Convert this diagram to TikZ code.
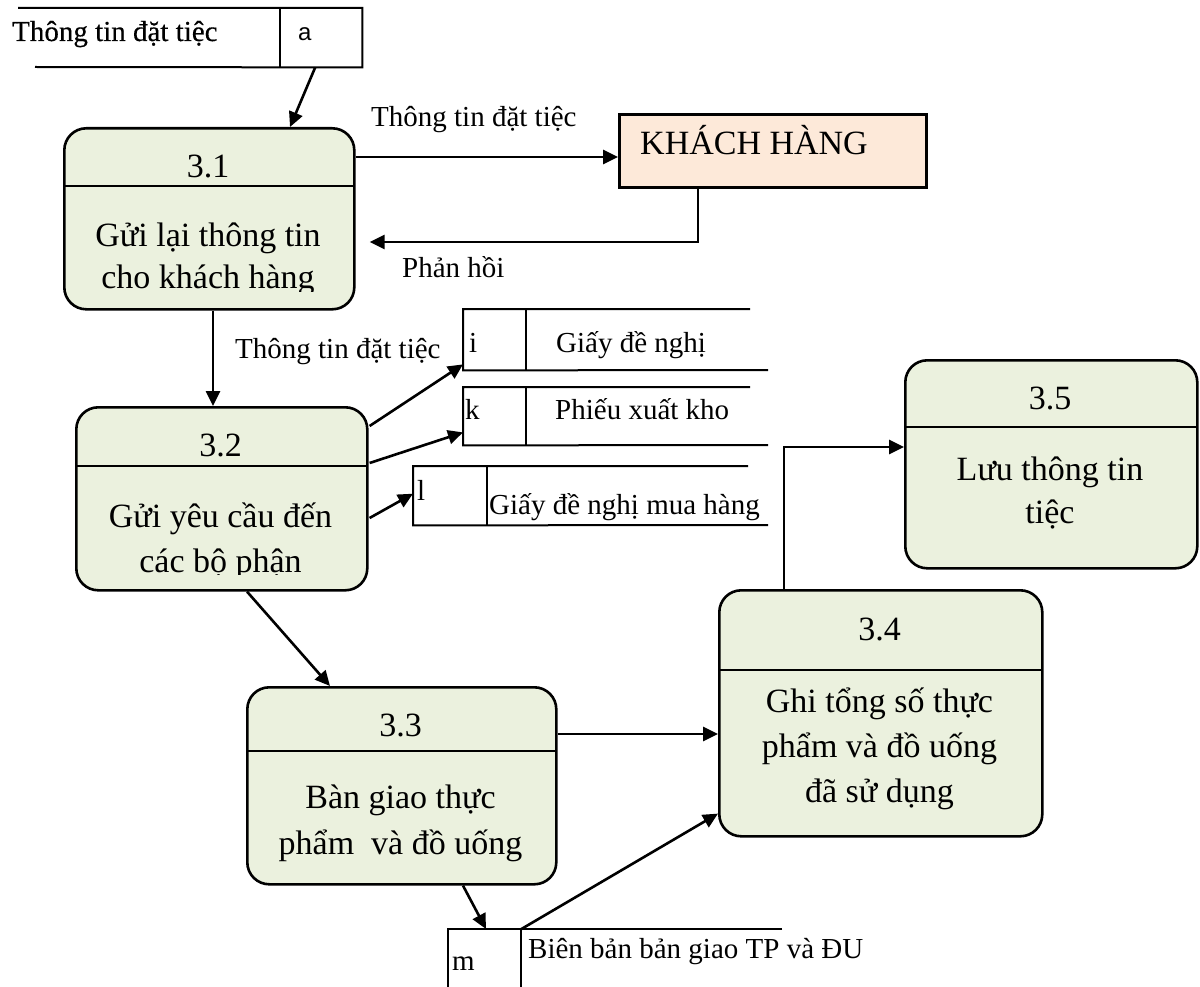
\documentclass[tikz,border=0pt]{standalone}
\usepackage{fontspec}
\setmainfont{Liberation Serif}
\newfontfamily\arialfont{Liberation Sans}
\newfontfamily\heavyserif[FakeBold=0.4]{Liberation Serif}
\usetikzlibrary{arrows.meta,calc}

\definecolor{procfill}{HTML}{EBF1DE}
\definecolor{extfill}{HTML}{FDE9D9}

\tikzset{
  procbox/.style={draw, line width=2.6pt, rounded corners=22pt, fill=procfill,
    inner sep=0pt, anchor=north west},
  extbox/.style={draw, line width=2.6pt, fill=extfill, inner sep=0pt, anchor=north west},
  cell/.style={inner sep=0pt, anchor=north west},
  flow/.style={line width=2.6pt, -{Triangle[length=15pt,width=14pt]}},
  lbl/.style={font=\fontsize{29}{33}\selectfont, inner sep=0pt, anchor=base west},
  ptxt/.style={font=\fontsize{34}{40}\selectfont, inner sep=0pt, anchor=base},
  divline/.style={line width=2.4pt},
  storeline/.style={line width=2pt},
}

\begin{document}
\begin{tikzpicture}[x=1pt,y=-1pt]
\useasboundingbox (0,0) rectangle (1200,987);

% ---------- data store a ----------
\node[cell, minimum width=82pt, minimum height=59pt] (sa) at (280,8) {};
\draw[storeline] (18,8) -- (sa.north east) -- (sa.south east) -- (35,67);
\draw[storeline] (sa.north west) -- (sa.south west);
\node[lbl, font=\heavyserif\fontsize{29}{33}\selectfont] (saname) at (12,41) {Thông tin đặt tiệc};
\node[inner sep=0pt, anchor=base west, font=\arialfont\fontsize{24}{28}\selectfont] (said) at (298,41) {a};

% ---------- external entity ----------
\node[extbox, minimum width=307pt, minimum height=73pt] (kh) at (618,113) {};
\node[inner sep=0pt, anchor=base west, font=\fontsize{34}{40}\selectfont] (khtxt) at (640,155) {KHÁCH HÀNG};

% ---------- process 3.1 ----------
\node[procbox, minimum width=290pt, minimum height=181pt] (p31) at (63,127) {};
\draw[divline] (63,186) -- (353,186);
\node[ptxt] (p31id) at (208,178) {3.1};
\begin{scope}
  \clip (63,186) rectangle (353,292);
  \node[ptxt] (p31a) at (208,247) {Gửi lại thông tin};
  \node[ptxt] (p31b) at (208,289) {cho khách hàng};
\end{scope}

% ---------- process 3.2 ----------
\node[procbox, minimum width=291pt, minimum height=183pt] (p32) at (75,406) {};
\draw[divline] (75,466) -- (366,466);
\node[ptxt] (p32id) at (220.5,456) {3.2};
\begin{scope}
  \clip (75,466) rectangle (366,574);
  \node[ptxt] (p32a) at (220.5,527) {Gửi yêu cầu đến};
  \node[ptxt] (p32b) at (220.5,572) {các bộ phận};
\end{scope}

% ---------- process 3.3 ----------
\node[procbox, minimum width=309pt, minimum height=197pt] (p33) at (246,686) {};
\draw[divline] (246,751) -- (555,751);
\node[ptxt] (p33id) at (400.5,736) {3.3};
\node[ptxt] (p33a) at (400.5,808) {Bàn giao thực};
\node[ptxt] (p33b) at (400.5,854) {phẩm\ \ và đồ uống};

% ---------- process 3.4 ----------
\node[procbox, minimum width=323pt, minimum height=246pt] (p34) at (718,589) {};
\draw[divline] (718,670) -- (1041,670);
\node[ptxt] (p34id) at (879.5,640) {3.4};
\node[ptxt] (p34a) at (879.5,712) {Ghi tổng số thực};
\node[ptxt] (p34b) at (879.5,757) {phẩm và đồ uống};
\node[ptxt] (p34c) at (879.5,802) {đã sử dụng};

% ---------- process 3.5 ----------
\node[procbox, minimum width=292pt, minimum height=208pt] (p35) at (904,359) {};
\draw[divline] (904,427) -- (1196,427);
\node[ptxt] (p35id) at (1050,409) {3.5};
\node[ptxt] (p35a) at (1050,480) {Lưu thông tin};
\node[ptxt] (p35b) at (1050,523) {tiệc};

% ---------- data store i ----------
\node[cell, minimum width=63pt, minimum height=61pt] (si) at (463,309) {};
\draw[storeline] (750,309) -- (si.north west) -- (si.south west) -- (768,370);
\draw[storeline] (si.north east) -- (si.south east);
\node[lbl] (siid) at (469,352) {i};
\node[lbl] (siname) at (556,352) {Giấy đề nghị};

% ---------- data store k ----------
\node[cell, minimum width=63pt, minimum height=58pt] (sk) at (463,387) {};
\draw[storeline] (750,387) -- (sk.north west) -- (sk.south west) -- (768,445);
\draw[storeline] (sk.north east) -- (sk.south east);
\node[lbl] (skid) at (465,419) {k};
\node[lbl] (skname) at (555,419) {Phiếu xuất kho};

% ---------- data store l ----------
\node[cell, minimum width=74pt, minimum height=59pt] (sl) at (413,466) {};
\draw[storeline] (748,466) -- (sl.north west) -- (sl.south west) -- (768,525);
\draw[storeline] (sl.north east) -- (sl.south east);
\node[lbl] (slid) at (417,500) {l};
\node[lbl] (slname) at (489,514) {Giấy đề nghị mua hàng};

% ---------- data store m ----------
\node[cell, minimum width=73pt, minimum height=61pt] (sm) at (448,929) {};
\draw[storeline] (782,929) -- (sm.north west) -- (sm.south west);
\draw[storeline] (sm.north east) -- (sm.south east);
\node[lbl] (smid) at (452,970) {m};
\node[lbl] (smname) at (528,958) {Biên bản bản giao TP và ĐU};

% ---------- flows ----------
\draw[flow] ($(sa.south)+(-6,0)$) -- ($(p31.north west)+(227,0)$);
\draw[flow] ($(p31.north east)+(0,30)$) -- ($(kh.north west)+(0,44)$);
\node[lbl] (f1) at (371,127) {Thông tin đặt tiệc};
\draw[flow] ($(kh.south west)+(80,0)$) |- ($(p31.north east)+(14,115)$);
\node[lbl] (f2) at (402,278) {Phản hồi};
\draw[flow] ($(p31.south west)+(150,0)$) -- ($(p32.north west)+(138,0)$);
\node[lbl] (f3) at (235,358) {Thông tin đặt tiệc};
\draw[flow] ($(p32.north east)+(1,20)$) -- ($(si.south west)+(0,-6)$);
\draw[flow] ($(p32.north east)+(1,57)$) -- ($(sk.south west)+(0,-13)$);
\draw[flow] ($(p32.north east)+(1,112)$) -- ($(sl.west)+(0,-2)$);
\draw[flow] ($(p32.south west)+(172,0)$) -- ($(p33.north west)+(84,0)$);
\draw[flow] ($(p33.north east)+(0,48)$) -- ($(p34.north west)+(0,145)$);
\draw[flow] ($(p33.south west)+(217,0)$) -- ($(sm.north west)+(38,0)$);
\draw[flow] (sm.north east) -- ($(p34.south west)+(0,-24)$);
\draw[flow] ($(p34.north west)+(66,0)$) |- ($(p35.north west)+(0,88)$);
\end{tikzpicture}
\end{document}
